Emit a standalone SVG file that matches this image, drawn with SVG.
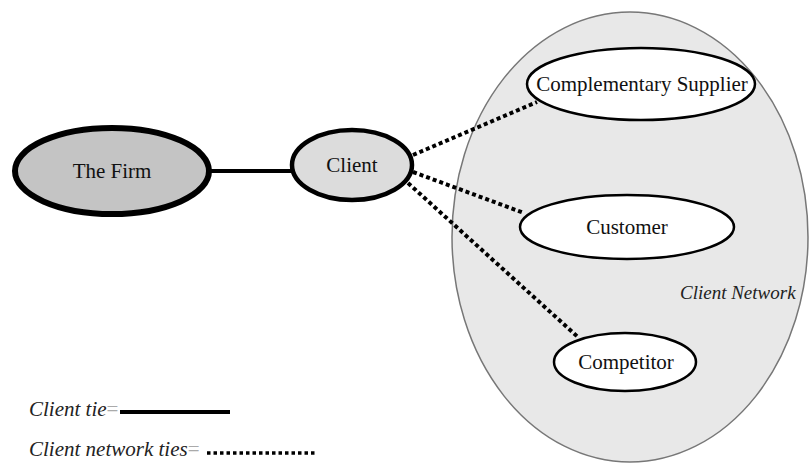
<svg xmlns="http://www.w3.org/2000/svg" width="809" height="472" viewBox="0 0 809 472">
<style>
.lbl{font-family:'Liberation Serif','Times New Roman',Times,'Noto Serif','DejaVu Serif',serif;font-size:21px;fill:#111;text-anchor:middle}
.it{font-family:'Liberation Serif','Times New Roman',Times,'Noto Serif','DejaVu Serif',serif;font-style:italic;font-size:21px;fill:#222}
.node{fill:#fff;stroke:#000;stroke-width:2.5}
.tie{stroke:#000;stroke-width:4;fill:none}
.net{stroke:#000;stroke-width:4;stroke-dasharray:4 3;fill:none}
</style>
<rect width="809" height="472" fill="#fff"/>
<g id="client-network">
<ellipse cx="630" cy="237" rx="178" ry="225" fill="#e8e8e8" stroke="#777" stroke-width="1.5"/>
<text class="it" x="680" y="299" style="font-size:19px">Client Network</text>
</g>
<g id="connectors">
<line class="tie" x1="210" y1="171" x2="292" y2="171"/>
<line class="net" x1="413" y1="155" x2="537" y2="102"/>
<line class="net" x1="413" y1="172" x2="524" y2="213"/>
<line class="net" x1="408" y1="183" x2="579" y2="338"/>
</g>
<g id="the-firm">
<ellipse cx="112" cy="171" rx="97" ry="43" fill="#c4c4c4" stroke="#000" stroke-width="6"/>
<text class="lbl" x="112" y="178">The Firm</text>
</g>
<g id="client">
<ellipse cx="352" cy="165" rx="60" ry="35" fill="#dcdcdc" stroke="#000" stroke-width="4.5"/>
<text class="lbl" x="352" y="172">Client</text>
</g>
<g id="complementary-supplier">
<ellipse class="node" cx="641" cy="84" rx="114" ry="36"/>
<text class="lbl" x="642" y="91">Complementary Supplier</text>
</g>
<g id="customer">
<ellipse class="node" cx="627" cy="227" rx="107" ry="32"/>
<text class="lbl" x="627" y="234">Customer</text>
</g>
<g id="competitor">
<ellipse class="node" cx="625" cy="362" rx="71" ry="29"/>
<text class="lbl" x="626" y="369">Competitor</text>
</g>
<g id="legend">
<text class="it" x="29" y="416">Client tie<tspan fill="#aaa" font-style="normal">=</tspan></text>
<line class="tie" x1="120" y1="412" x2="230" y2="412"/>
<text class="it" x="29" y="456">Client network ties<tspan fill="#aaa" font-style="normal">=</tspan></text>
<line class="net" x1="207" y1="453" x2="317" y2="453" style="stroke-width:3.5;stroke-dasharray:3.5 3"/>
</g>
</svg>
